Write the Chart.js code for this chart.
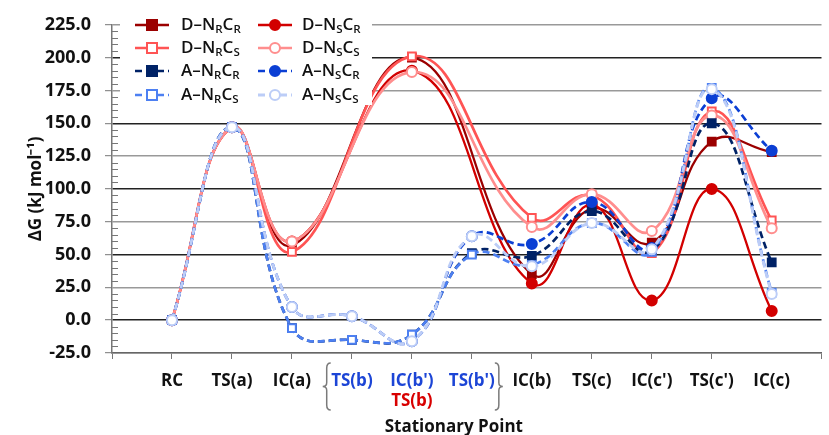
<!DOCTYPE html>
<html>
<head>
<meta charset="utf-8">
<script src="https://cdn.jsdelivr.net/npm/chart.js@4.4.0/dist/chart.umd.min.js"></script>
<style>
html, body { margin: 0; padding: 0; background: #fff; }
#wrap { width: 829px; height: 435px; }
</style>
</head>
<body>
<div id="wrap"><canvas id="grafico"></canvas></div>
<script>
// Puntos estacionarios (eje X)
const puntos = ['RC', 'TS(a)', 'IC(a)', 'TS(b)', "IC(b')", "TS(b')", 'IC(b)', 'TS(c)', "IC(c')", "TS(c')", 'IC(c)'];

// Energías (kJ/mol); null = no existe ese punto para la serie D
const dNRCR = [0, 147, 57, null, 200, null, 35, 85, 59, 136, 128];
const dNSCR = [0, 147, 60, null, 190, null, 28, 88, 15, 100, 7];
const dNRCS = [0, 147, 52, null, 201, null, 78, 95, 51, 159, 76];
const dNSCS = [0, 147, 60, null, 189, null, 71, 96, 68, 156, 70];
const aNRCR = [0, 147, -6, -15, -11, 51, 49, 83, 53, 150, 44];
const aNSCR = [0, 147, 10, 3, -16, 64, 58, 90, 55, 169, 129];
const aNRCS = [0, 147, -6, -15, -11, 50, 42, 74, 52, 177, 21];
const aNSCS = [0, 147, 10, 3, -16, 64, 41, 74, 54, 176, 20];

// Límites del eje Y
const yMin = -25, yMax = 225, yPaso = 25;

const FONT = '"Open Sans", "Liberation Sans", sans-serif';

// estilo de cada serie: [etiqueta, sub1, sub2, datos, color, forma, relleno, discontinua, grosor]
const series = [
    ['D–N', 'R', 'R', dNRCR, '#9b0000', 'rect', true, false, 2.3],
    ['D–N', 'S', 'R', dNSCR, '#d20000', 'circle', true, false, 2.3],
    ['D–N', 'R', 'S', dNRCS, '#ff5454', 'rect', false, false, 2.7],
    ['D–N', 'S', 'S', dNSCS, '#ff8e8e', 'circle', false, false, 2.7],
    ['A–N', 'R', 'R', aNRCR, '#002266', 'rect', true, true, 2.7],
    ['A–N', 'S', 'R', aNSCR, '#0b3fd4', 'circle', true, true, 2.7],
    ['A–N', 'R', 'S', aNRCS, '#4d80f2', 'rect', false, true, 2.7],
    ['A–N', 'S', 'S', aNSCS, '#bccdf7', 'circle', false, true, 2.9]
];

const datasets = series.map((s, i) => ({
    label: s[0] + s[1] + 'C' + s[2],
    data: s[3].map((v, j) => ({ x: j + 1, y: v })).filter(p => p.y !== null),
    borderColor: s[4],
    backgroundColor: s[6] ? s[4] : '#ffffff',
    pointBackgroundColor: s[6] ? s[4] : '#ffffff',
    pointBorderColor: s[4],
    pointStyle: s[5],
    pointRadius: s[5] === 'rect' ? 5.5 : 5,
    pointBorderWidth: 2,
    borderWidth: s[8],
    borderDash: s[7] ? [7, 4] : [],
    tension: 0.45,
    spanGaps: true,
    order: series.length - i
}));

// dibuja texto con subíndices: D–N_R C_R
function textoSub(ctx, s, x, y) {
    const partes = [[s[0], false], [s[1], true], ['C', false], [s[2], true]];
    let cx = x;
    partes.forEach(p => {
        ctx.font = p[1] ? '600 11.5px ' + FONT : '600 17px ' + FONT;
        ctx.fillText(p[0], cx, p[1] ? y + 5 : y);
        cx += ctx.measureText(p[0]).width;
    });
}

function marcador(ctx, s, x, y) {
    ctx.save();
    ctx.setLineDash([]);
    ctx.lineWidth = 2;
    ctx.strokeStyle = s[4];
    ctx.fillStyle = s[6] ? s[4] : '#ffffff';
    ctx.beginPath();
    if (s[5] === 'rect') {
        ctx.rect(x - 5, y - 5, 10, 10);
    } else {
        ctx.arc(x, y, 5, 0, Math.PI * 2);
    }
    ctx.fill();
    ctx.stroke();
    ctx.restore();
}

function llave(ctx, x, top, bottom, dir) {
    // dir = 1 llave izquierda "{", -1 llave derecha "}"
    const mid = (top + bottom) / 2;
    const w = 4 * dir;
    ctx.beginPath();
    ctx.moveTo(x + w, top);
    ctx.quadraticCurveTo(x, top, x, top + 5);
    ctx.lineTo(x, mid - 4);
    ctx.quadraticCurveTo(x, mid, x - w, mid);
    ctx.quadraticCurveTo(x, mid, x, mid + 4);
    ctx.lineTo(x, bottom - 5);
    ctx.quadraticCurveTo(x, bottom, x + w, bottom);
    ctx.stroke();
}

const extras = {
    id: 'extras',
    afterDraw(chart) {
        const ctx = chart.ctx;
        const xs = chart.scales.x;
        const ys = chart.scales.y;
        const area = chart.chartArea;
        ctx.save();

        // marcas menores del eje Y
        ctx.strokeStyle = '#777';
        ctx.lineWidth = 1;
        for (let v = yMin; v <= yMax; v += 5) {
            if (v % 25 === 0) continue;
            const py = Math.round(ys.getPixelForValue(v)) + 0.5;
            ctx.beginPath();
            ctx.moveTo(area.left, py);
            ctx.lineTo(area.left + 6, py);
            ctx.stroke();
        }

        // leyenda con fondo blanco
        ctx.fillStyle = '#ffffff';
        ctx.fillRect(area.left + 8, 12, 252, 93);
        const filas = [25, 48, 71, 95];
        const cols = [[135, 169, 152, 181], [258, 292, 275, 302]];
        series.forEach((s, i) => {
            const c = cols[i % 2];
            const y = filas[Math.floor(i / 2)];
            ctx.save();
            ctx.strokeStyle = s[4];
            ctx.lineWidth = s[8];
            ctx.setLineDash(s[7] ? [7, 4] : []);
            ctx.beginPath();
            ctx.moveTo(c[0], y);
            ctx.lineTo(c[1], y);
            ctx.stroke();
            ctx.restore();
            marcador(ctx, s, c[2], y);
            ctx.fillStyle = '#111';
            ctx.textBaseline = 'middle';
            ctx.textAlign = 'left';
            textoSub(ctx, s, c[3], y);
        });

        // etiquetas del eje X
        ctx.textAlign = 'center';
        ctx.textBaseline = 'middle';
        ctx.font = 'bold 17px ' + FONT;
        const filaY = area.bottom + 28;
        puntos.forEach((p, i) => {
            ctx.fillStyle = (i >= 3 && i <= 5) ? '#1c45d6' : '#111';
            ctx.fillText(p, xs.getPixelForValue(i + 1), filaY);
        });
        ctx.fillStyle = '#d80000';
        ctx.fillText('TS(b)', xs.getPixelForValue(5), filaY + 20);

        // llaves alrededor del grupo (b)
        ctx.strokeStyle = '#7a7a7a';
        ctx.lineWidth = 1.5;
        llave(ctx, xs.getPixelForValue(3.58), area.bottom + 10, area.bottom + 57, 1);
        llave(ctx, xs.getPixelForValue(6.45), area.bottom + 10, area.bottom + 57, -1);

        // título del eje X
        ctx.fillStyle = '#111';
        ctx.font = 'bold 17px ' + FONT;
        ctx.fillText('Stationary Point', xs.getPixelForValue(5.7), area.bottom + 74);
        ctx.restore();
    }
};

new Chart(document.getElementById('grafico'), {
    type: 'line',
    data: { datasets: datasets },
    options: {
        responsive: true,
        maintainAspectRatio: false,
        animation: false,
        layout: { padding: { top: 19, right: 0, bottom: 0, left: 0 } },
        plugins: {
            legend: { display: false },
            tooltip: { enabled: false }
        },
        scales: {
            x: {
                type: 'linear',
                min: 0,
                max: 11.83,
                ticks: { stepSize: 1, display: false },
                grid: { drawOnChartArea: false, tickLength: 6, color: '#777' },
                border: { color: '#666', width: 1.5 },
                afterFit: scale => { scale.height = 82; }
            },
            y: {
                min: yMin,
                max: yMax,
                ticks: {
                    stepSize: yPaso,
                    padding: 14,
                    color: '#111',
                    font: { family: FONT, size: 18, weight: 'bold' },
                    callback: v => v.toFixed(1)
                },
                grid: {
                    color: c => (c.tick && c.tick.value % 50 === 0) ? '#222' : '#999',
                    lineWidth: 1.4,
                    tickLength: 7,
                    tickColor: '#777',
                    tickWidth: 1
                },
                border: { color: '#777', width: 1.5 },
                title: {
                    display: true,
                    text: 'ΔG (kJ mol⁻¹)',
                    color: '#111',
                    font: { family: FONT, size: 17, weight: 'bold' },
                    padding: { top: 26, bottom: 0 }
                },
                afterFit: scale => { scale.width = 112; }
            }
        }
    },
    plugins: [extras]
});
</script>
</body>
</html>
